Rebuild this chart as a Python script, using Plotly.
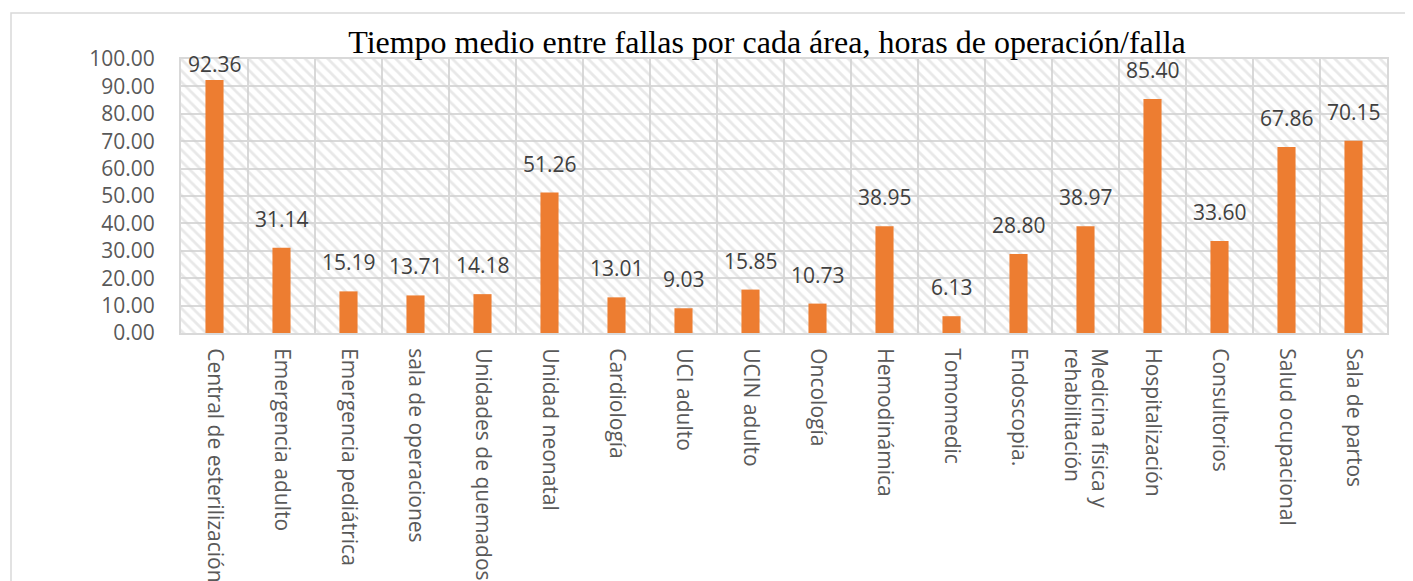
import plotly.graph_objects as go

categories = [
    "Central de esterilización", "Emergencia adulto", "Emergencia pediátrica",
    "sala de operaciones", "Unidades de quemados", "Unidad neonatal",
    "Cardiología", "UCI adulto", "UCIN adulto", "Oncología", "Hemodinámica",
    "Tomomedic", "Endoscopia.", "Medicina física y<br>rehabilitación",
    "Hospitalización", "Consultorios", "Salud ocupacional", "Sala de partos",
]
values = [92.36, 31.14, 15.19, 13.71, 14.18, 51.26, 13.01, 9.03, 15.85, 10.73,
          38.95, 6.13, 28.80, 38.97, 85.40, 33.60, 67.86, 70.15]
y_ticks = [0, 10, 20, 30, 40, 50, 60, 70, 80, 90, 100]
title_text = "Tiempo medio entre fallas por cada área, horas de operación/falla"

OFF = 8  # page body margin
W, H = 1413 - OFF, 581 - OFF
L, R, T, B = 181 - OFF, 26, 59 - OFF, 248
plot_w = W - L - R
plot_h = H - T - B
y_max = 100
px_per_unit = plot_h / y_max

xpos = list(range(len(categories)))
n = len(categories)
GRID = "#d9d9d9"
FONT = "Open Sans"

fig = go.Figure()

# hatched plot-area background (drawn first, under the data bars)
fig.add_trace(go.Bar(
    x=[(n - 1) / 2], y=[y_max], width=[n],
    marker=dict(color="rgba(0,0,0,0)", line=dict(width=0),
                pattern=dict(shape="\\", size=8, solidity=0.35,
                             fgcolor="#d2d2d2", bgcolor="rgba(0,0,0,0)")),
    hoverinfo="skip", showlegend=False,
))

fig.add_trace(go.Bar(
    x=xpos, y=values, width=0.27,
    marker=dict(color="#ED7D31", line=dict(width=0)),
    showlegend=False,
))

annotations = []
for xi, v in zip(xpos, values):
    room = (y_max - v) * px_per_unit - 22
    shift = max(0, min(13, room))
    annotations.append(dict(
        x=xi, y=v, xref="x", yref="y", text=f"{v:.2f}", showarrow=False,
        yanchor="bottom", yshift=shift,
        font=dict(family=FONT, size=21, color="#404040"),
    ))

fig.update_layout(
    width=W, height=H,
    margin=dict(l=L, r=R, t=T, b=B, autoexpand=False),
    paper_bgcolor="white", plot_bgcolor="white",
    barmode="overlay",
    title=dict(text=title_text, x=(767 - 181) / plot_w, xref="paper",
               xanchor="center",
               y=1 - (42 - OFF) / H, yref="container", yanchor="middle",
               font=dict(family="Liberation Serif", size=32, color="black")),
    annotations=annotations,
    shapes=[dict(type="rect", xref="paper", yref="paper",
                 x0=(11 - 181) / plot_w, x1=(1430 - 181) / plot_w,
                 y0=(333 - 600) / plot_h, y1=(333 - 13) / plot_h,
                 line=dict(color=GRID, width=1.5), layer="below")],
)

fig.update_xaxes(
    automargin=False,
    range=[-0.5, n - 0.5],
    tickmode="array", tickvals=xpos, ticktext=categories,
    tickangle=90, ticks="", showgrid=False,
    tickfont=dict(family=FONT, size=21, color="#595959"),
    ticklabelstandoff=9,
    showline=True, mirror=True, linecolor=GRID, linewidth=2,
    minor=dict(tickvals=[i + 0.5 for i in xpos[:-1]], showgrid=True,
               gridcolor=GRID, gridwidth=2, ticks=""),
    zeroline=False,
)
fig.update_yaxes(
    automargin=False,
    range=[0, y_max], tickmode="array", tickvals=y_ticks,
    tickformat=".2f", ticks="",
    showgrid=True, gridcolor=GRID, gridwidth=2,
    tickfont=dict(family=FONT, size=21, color="#595959"),
    ticklabelstandoff=20,
    showline=True, mirror=True, linecolor=GRID, linewidth=2,
    zeroline=False,
)

fig.write_html("out.html")
